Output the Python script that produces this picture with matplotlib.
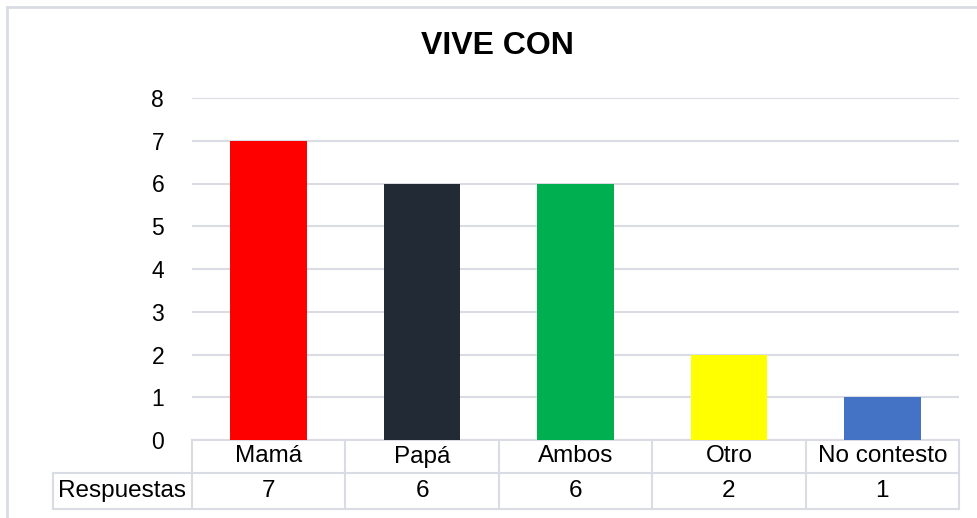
import matplotlib.pyplot as plt
from matplotlib.lines import Line2D

plt.rcParams['font.family'] = ['Liberation Sans', 'DejaVu Sans']

# data
categorias = ["Mamá", "Papá", "Ambos", "Otro", "No contesto"]
respuestas = [7, 6, 6, 2, 1]
colores = ["#FF0000", "#222A35", "#00B050", "#FFFF00", "#4472C4"]
serie = "Respuestas"
titulo = "VIVE CON"

W, H = 977, 518
fig = plt.figure(figsize=(W / 100, H / 100), dpi=100)

# plot area in pixels (left, top, right, bottom)
L, T, R, B = 192, 98, 959, 440
ax = fig.add_axes([L / W, (H - B) / H, (R - L) / W, (B - T) / H])

grid_c = "#D9DDE3"
ax.bar(range(len(categorias)), respuestas, width=0.5, color=colores, zorder=3)
ax.set_xlim(-0.5, len(categorias) - 0.5)
ax.set_ylim(0, 8)
ax.set_yticks(range(0, 9))
ax.yaxis.grid(True, color=grid_c, linewidth=1.5, zorder=0)
ax.set_xticks([])
ax.tick_params(axis='y', length=0, pad=20, labelsize=16.5)
for s in ax.spines.values():
    s.set_visible(False)

fig.text(497 / W, 1 - 46 / H, titulo, ha='center', va='center',
         fontsize=23, fontweight='bold')

# data table below the axis
ph = B - T
y0 = 0.0
y1 = -33 / ph
y2 = -69 / ph
xl = (53 - L) / (R - L)
n = len(categorias)
fs = 17.5
tkw = dict(transform=ax.transAxes, color=grid_c, linewidth=1.5, clip_on=False)

ax.add_line(Line2D([0, 1], [y0, y0], **tkw))
ax.add_line(Line2D([xl, 1], [y1, y1], **tkw))
ax.add_line(Line2D([xl, 1], [y2, y2], **tkw))
ax.add_line(Line2D([xl, xl], [y1, y2], **tkw))
for i in range(n + 1):
    ax.add_line(Line2D([i / n, i / n], [y0, y2], **tkw))

for i, (c, v) in enumerate(zip(categorias, respuestas)):
    xc = (i + 0.5) / n
    ax.text(xc, (y0 + y1) / 2, c, transform=ax.transAxes, ha='center',
            va='center', fontsize=fs)
    ax.text(xc, (y1 + y2) / 2, str(v), transform=ax.transAxes, ha='center',
            va='center', fontsize=fs)
ax.text(xl / 2, (y1 + y2) / 2, serie, transform=ax.transAxes, ha='center',
        va='center', fontsize=fs)

# chart border
fig.add_artist(Line2D([7 / W, 1], [1 - 7 / H, 1 - 7 / H], color=grid_c, linewidth=2))
fig.add_artist(Line2D([7 / W, 7 / W], [0, 1 - 7 / H], color=grid_c, linewidth=2))

fig.savefig("out.png", dpi=100)
